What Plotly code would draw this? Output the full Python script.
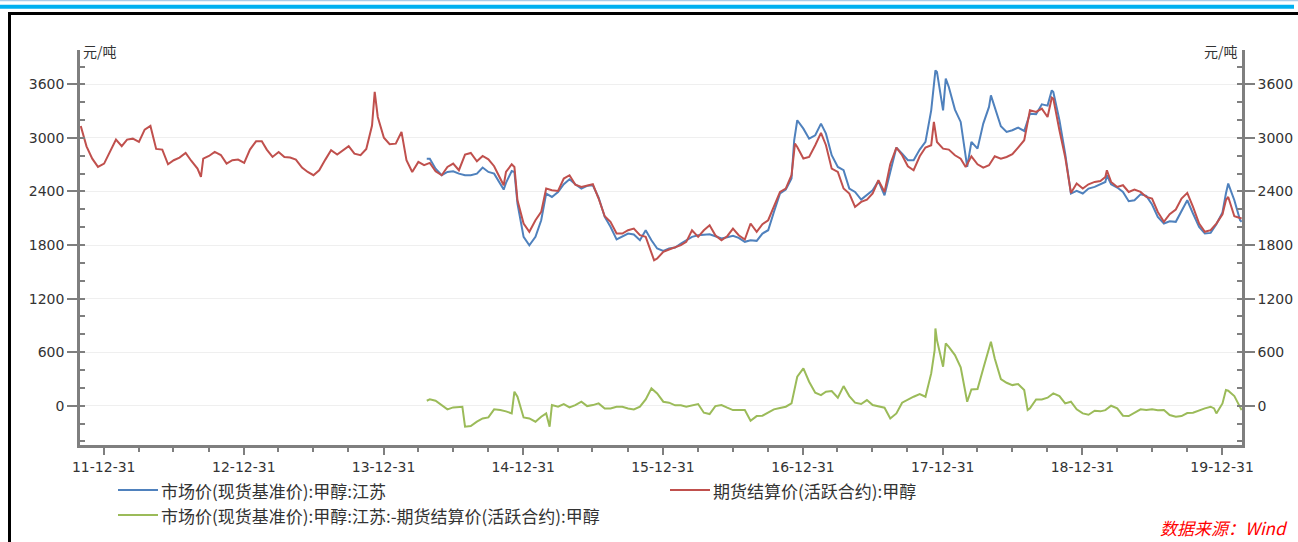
import plotly.graph_objects as go

# ---------------- data ----------------
RED_NAME = "期货结算价(活跃合约):甲醇"
BLUE_NAME = "市场价(现货基准价):甲醇:江苏"
GREEN_NAME = "市场价(现货基准价):甲醇:江苏:-期货结算价(活跃合约):甲醇"

RED_DATES = [
    "2011-11-01", "2011-11-16", "2011-12-01", "2011-12-16",
    "2012-01-01", "2012-01-16", "2012-02-01", "2012-02-16", "2012-03-01", "2012-03-16",
    "2012-04-01", "2012-04-16", "2012-05-01", "2012-05-16", "2012-06-01", "2012-06-16",
    "2012-07-01", "2012-07-16", "2012-08-01", "2012-08-16", "2012-09-01", "2012-09-10",
    "2012-09-16", "2012-10-01", "2012-10-16", "2012-11-01", "2012-11-16", "2012-12-01",
    "2012-12-16",
    "2013-01-01", "2013-01-16", "2013-02-01", "2013-02-16", "2013-03-01", "2013-03-16",
    "2013-04-01", "2013-04-16", "2013-05-01", "2013-05-16", "2013-06-01", "2013-06-16",
    "2013-07-01", "2013-07-16", "2013-08-01", "2013-08-16", "2013-09-01", "2013-09-16",
    "2013-10-01", "2013-10-16", "2013-11-01", "2013-11-16", "2013-12-01", "2013-12-08",
    "2013-12-16",
    "2014-01-01", "2014-01-16", "2014-02-01", "2014-02-16", "2014-03-01", "2014-03-16",
    "2014-04-01", "2014-04-16", "2014-05-01", "2014-05-16", "2014-06-01", "2014-06-16",
    "2014-07-01", "2014-07-16", "2014-08-01", "2014-08-16", "2014-09-01", "2014-09-16",
    "2014-10-01", "2014-10-16", "2014-11-01", "2014-11-10", "2014-11-16", "2014-12-01",
    "2014-12-08", "2014-12-16",
    "2015-01-01", "2015-01-16", "2015-02-01", "2015-02-16", "2015-03-01", "2015-03-16",
    "2015-04-01", "2015-04-16", "2015-05-01", "2015-05-16", "2015-06-01", "2015-06-16",
    "2015-07-01", "2015-07-16", "2015-08-01", "2015-08-16", "2015-09-01", "2015-09-16",
    "2015-10-01", "2015-10-16", "2015-11-01", "2015-11-16", "2015-12-01", "2015-12-08",
    "2015-12-16",
    "2016-01-01", "2016-01-16", "2016-02-01", "2016-02-16", "2016-03-01", "2016-03-16",
    "2016-04-01", "2016-04-16", "2016-05-01", "2016-05-16", "2016-06-01", "2016-06-16",
    "2016-07-01", "2016-07-16", "2016-08-01", "2016-08-16", "2016-09-01", "2016-09-16",
    "2016-10-01", "2016-10-16", "2016-11-01", "2016-11-16", "2016-12-01", "2016-12-10",
    "2016-12-16",
    "2017-01-01", "2017-01-16", "2017-02-01", "2017-02-16", "2017-03-01", "2017-03-16",
    "2017-04-01", "2017-04-16", "2017-05-01", "2017-05-16", "2017-06-01", "2017-06-16",
    "2017-07-01", "2017-07-16", "2017-08-01", "2017-08-16", "2017-09-01", "2017-09-16",
    "2017-10-01", "2017-10-16", "2017-11-01", "2017-11-16", "2017-12-01", "2017-12-08",
    "2017-12-16",
    "2018-01-01", "2018-01-16", "2018-02-01", "2018-02-16", "2018-03-01", "2018-03-16",
    "2018-04-01", "2018-04-16", "2018-05-01", "2018-05-16", "2018-06-01", "2018-06-16",
    "2018-07-01", "2018-07-16", "2018-08-01", "2018-08-16", "2018-09-01", "2018-09-16",
    "2018-10-01", "2018-10-12", "2018-10-16", "2018-11-01", "2018-11-16", "2018-12-01",
    "2018-12-16",
    "2019-01-01", "2019-01-16", "2019-02-01", "2019-02-16", "2019-03-01", "2019-03-05",
    "2019-03-16", "2019-04-01", "2019-04-16", "2019-05-01", "2019-05-16", "2019-06-01",
    "2019-06-16", "2019-07-01", "2019-07-16", "2019-08-01", "2019-08-16", "2019-09-01",
    "2019-09-16", "2019-10-01", "2019-10-16", "2019-11-01", "2019-11-16", "2019-12-01",
    "2019-12-16",
    "2020-01-01", "2020-01-10", "2020-01-16", "2020-02-01", "2020-02-16", "2020-02-20",
]
RED_VALUES = [
    3134, 2906, 2768, 2675,
    2712, 2843, 2981, 2907, 2981, 2992,
    2955, 3093, 3134, 2877, 2869, 2705,
    2750, 2780, 2832, 2742, 2656, 2563,
    2768, 2798, 2843, 2809, 2712, 2750,
    2757,
    2720, 2869, 2962, 2962, 2869, 2787,
    2843, 2787, 2780, 2757, 2668, 2619,
    2582, 2638, 2757, 2862, 2813, 2862,
    2907, 2824, 2806, 2877, 3138, 3515,
    3235,
    3003, 2929, 2936, 3067, 2750, 2619,
    2731, 2694, 2720, 2627, 2582, 2675,
    2712, 2638, 2813, 2832, 2739, 2798,
    2761, 2683, 2545, 2470, 2619, 2705,
    2675, 2302,
    2041, 1948, 2078, 2171, 2433, 2414,
    2406, 2545, 2582, 2477, 2451, 2466,
    2481, 2321, 2123, 2060, 1929, 1929,
    1966, 1985, 1910, 1892, 1724, 1630,
    1649,
    1724, 1750, 1772, 1798, 1836, 1966,
    1892, 1966, 2022, 1910, 1854, 1899,
    1985, 1910, 1862, 2041, 1948, 2033,
    2078, 2239, 2395, 2433, 2582, 2936,
    2899,
    2769, 2787, 2918, 3056, 2918, 2656,
    2619, 2433, 2377, 2227, 2283, 2309,
    2377, 2526, 2395, 2705, 2892, 2806,
    2683, 2638, 2794, 2892, 2918, 3179,
    2955,
    2880, 2869, 2806, 2768, 2675, 2794,
    2705, 2668, 2694, 2794, 2768, 2787,
    2817, 2892, 2974, 3309, 3291, 3328,
    3235, 3451, 3440, 3086, 2787, 2384,
    2489,
    2433, 2481, 2507, 2518, 2563, 2638,
    2507, 2451, 2470, 2395, 2421, 2395,
    2339, 2321, 2171, 2060, 2145, 2198,
    2321, 2384, 2227, 2041, 1948, 1966,
    2041,
    2145, 2302, 2339, 2123, 2097, 2097,
]

BLUE_DATES = [
    "2014-04-23", "2014-05-01", "2014-05-16", "2014-06-01", "2014-06-16",
    "2014-07-01", "2014-07-16", "2014-08-01", "2014-08-16", "2014-09-01", "2014-09-16",
    "2014-10-01", "2014-10-16", "2014-11-01", "2014-11-10", "2014-11-16", "2014-12-01",
    "2014-12-08", "2014-12-16",
    "2015-01-01", "2015-01-16", "2015-02-01", "2015-02-16", "2015-03-01", "2015-03-16",
    "2015-04-01", "2015-04-16", "2015-05-01", "2015-05-16", "2015-06-01", "2015-06-16",
    "2015-07-01", "2015-07-16", "2015-08-01", "2015-08-16", "2015-09-01", "2015-09-16",
    "2015-10-01", "2015-10-16", "2015-11-01", "2015-11-16", "2015-12-01", "2015-12-16",
    "2016-01-01", "2016-01-16", "2016-02-01", "2016-02-16", "2016-03-01", "2016-03-16",
    "2016-04-01", "2016-04-16", "2016-05-01", "2016-05-16", "2016-06-01", "2016-06-16",
    "2016-07-01", "2016-07-16", "2016-08-01", "2016-08-16", "2016-09-01", "2016-09-16",
    "2016-10-01", "2016-10-16", "2016-11-01", "2016-11-16", "2016-12-01", "2016-12-08",
    "2016-12-16",
    "2017-01-01", "2017-01-16", "2017-02-01", "2017-02-16", "2017-03-01", "2017-03-16",
    "2017-04-01", "2017-04-16", "2017-05-01", "2017-05-16", "2017-06-01", "2017-06-16",
    "2017-07-01", "2017-07-16", "2017-08-01", "2017-08-16", "2017-09-01", "2017-09-16",
    "2017-10-01", "2017-10-16", "2017-11-01", "2017-11-16", "2017-12-01", "2017-12-12",
    "2017-12-16",
    "2018-01-01", "2018-01-08", "2018-01-16", "2018-02-01", "2018-02-16", "2018-03-01",
    "2018-03-05", "2018-03-16", "2018-04-01", "2018-04-16", "2018-05-01", "2018-05-06",
    "2018-05-16", "2018-06-01", "2018-06-16", "2018-07-01", "2018-07-16", "2018-08-01",
    "2018-08-16", "2018-09-01", "2018-09-16", "2018-10-01", "2018-10-12", "2018-10-16",
    "2018-11-01", "2018-11-16", "2018-12-01", "2018-12-16",
    "2019-01-01", "2019-01-16", "2019-02-01", "2019-02-16", "2019-03-01", "2019-03-05",
    "2019-03-16", "2019-04-01", "2019-04-16", "2019-05-01", "2019-05-16", "2019-06-01",
    "2019-06-16", "2019-07-01", "2019-07-16", "2019-08-01", "2019-08-16", "2019-09-01",
    "2019-09-16", "2019-10-01", "2019-10-16", "2019-11-01", "2019-11-16", "2019-12-01",
    "2019-12-16",
    "2020-01-01", "2020-01-10", "2020-01-16", "2020-02-01", "2020-02-16", "2020-02-20",
]
BLUE_VALUES = [
    2768, 2768, 2656, 2582, 2619,
    2627, 2600, 2582, 2582, 2600, 2668,
    2619, 2600, 2481, 2421, 2496, 2630,
    2619, 2265,
    1892, 1798, 1892, 2078, 2377, 2339,
    2395, 2481, 2537, 2481, 2433, 2463,
    2470, 2332, 2115, 2004, 1862, 1892,
    1929, 1918, 1854, 1966, 1854, 1761,
    1735, 1761, 1772, 1817, 1854, 1892,
    1910, 1918, 1921, 1899, 1873, 1888,
    1903, 1880, 1836, 1854, 1847, 1929,
    1966, 2171, 2377, 2421, 2545, 2974,
    3198,
    3104, 2992, 3030, 3160, 3048, 2806,
    2675, 2638, 2433, 2395, 2309, 2358,
    2414, 2518, 2358, 2619, 2892, 2824,
    2750, 2750, 2869, 2955, 3309, 3757,
    3740,
    3309, 3664, 3571, 3317, 3179, 2824,
    2675, 2955, 2880, 3160, 3347, 3477,
    3347, 3130, 3067, 3086, 3115, 3078,
    3272, 3265, 3377, 3362, 3533, 3515,
    3198, 2824, 2377, 2406,
    2377, 2433, 2451, 2477, 2507, 2582,
    2481, 2444, 2395, 2291, 2302, 2369,
    2351, 2254, 2115, 2041, 2067, 2060,
    2190, 2302, 2153, 2004, 1929, 1936,
    2033,
    2164, 2377, 2489, 2302, 2078, 2060,
]

GREEN_DATES = [
    "2014-04-23", "2014-05-01", "2014-05-16", "2014-06-01", "2014-06-16",
    "2014-07-01", "2014-07-16", "2014-07-25", "2014-08-01", "2014-08-16", "2014-09-01",
    "2014-09-16", "2014-10-01", "2014-10-16", "2014-11-01", "2014-11-16", "2014-12-01",
    "2014-12-08", "2014-12-16",
    "2015-01-01", "2015-01-16", "2015-02-01", "2015-02-16", "2015-03-01", "2015-03-10",
    "2015-03-16", "2015-04-01", "2015-04-16", "2015-05-01", "2015-05-16", "2015-06-01",
    "2015-06-16", "2015-07-01", "2015-07-16", "2015-08-01", "2015-08-16", "2015-09-01",
    "2015-09-16", "2015-10-01", "2015-10-16", "2015-11-01", "2015-11-16", "2015-12-01",
    "2015-12-16",
    "2016-01-01", "2016-01-16", "2016-02-01", "2016-02-16", "2016-03-01", "2016-03-16",
    "2016-04-01", "2016-04-16", "2016-05-01", "2016-05-16", "2016-06-01", "2016-06-16",
    "2016-07-01", "2016-07-16", "2016-08-01", "2016-08-16", "2016-09-01", "2016-09-16",
    "2016-10-01", "2016-10-16", "2016-11-01", "2016-11-16", "2016-12-01", "2016-12-08",
    "2016-12-16",
    "2017-01-01", "2017-01-16", "2017-02-01", "2017-02-16", "2017-03-01", "2017-03-16",
    "2017-04-01", "2017-04-10", "2017-04-16", "2017-05-01", "2017-05-16", "2017-06-01",
    "2017-06-16", "2017-07-01", "2017-07-16", "2017-08-01", "2017-08-16", "2017-09-01",
    "2017-09-16", "2017-10-01", "2017-10-16", "2017-11-01", "2017-11-16", "2017-12-01",
    "2017-12-10", "2017-12-12", "2017-12-16",
    "2018-01-01", "2018-01-08", "2018-01-16", "2018-02-01", "2018-02-16", "2018-03-01",
    "2018-03-05", "2018-03-16", "2018-04-01", "2018-04-16", "2018-05-01", "2018-05-06",
    "2018-05-16", "2018-06-01", "2018-06-16", "2018-07-01", "2018-07-16", "2018-08-01",
    "2018-08-10", "2018-08-16", "2018-09-01", "2018-09-16", "2018-10-01", "2018-10-16",
    "2018-11-01", "2018-11-16", "2018-12-01", "2018-12-16",
    "2019-01-01", "2019-01-16", "2019-02-01", "2019-02-16", "2019-03-01", "2019-03-16",
    "2019-04-01", "2019-04-16", "2019-05-01", "2019-05-16", "2019-06-01", "2019-06-16",
    "2019-07-01", "2019-07-16", "2019-08-01", "2019-08-16", "2019-09-01", "2019-09-16",
    "2019-10-01", "2019-10-16", "2019-11-01", "2019-11-16", "2019-12-01", "2019-12-10",
    "2019-12-16",
    "2020-01-01", "2020-01-10", "2020-01-16", "2020-02-01", "2020-02-16", "2020-02-20",
]
GREEN_VALUES = [
    56, 71, 56, 7, -41,
    -19, -11, -11, -235, -228, -179,
    -142, -131, -41, -49, -63, -86,
    157, 101,
    -131, -142, -179, -123, -86, -235,
    7, -11, 19, -19, 7, 45,
    -4, 7, 26, -30, -30, -11,
    -11, -30, -41, -11, 71, 194,
    138,
    45, 34, 4, 4, -11, 7,
    19, -78, -93, -4, 7, -22,
    -49, -49, -49, -168, -116, -112,
    -78, -41, -26, -11, 26, 157,
    325,
    418, 269, 146, 119, 157, 164,
    90, 175, 220, 108, 34, 19,
    63, 7, -4, -22, -142, -86,
    34, 71, 101, 131, 101, 362,
    623, 866, 735,
    437, 698, 660, 567, 429, 138,
    45, 183, 187, 418, 623, 716,
    530, 298, 257, 231, 243, 175,
    -49, -30, 71, 71, 90, 138,
    108, 26, 45, -41,
    -86, -101, -56, -63, -49, 0,
    -30, -112, -116, -75, -41, -49,
    -41, -52, -49, -104, -123, -116,
    -82, -78, -49, -30, -11, -30,
    -86,
    26, 175, 168, 108, -11, -49,
]

Y_TICKS = [0, 600, 1200, 1800, 2400, 3000, 3600]
X_TICK_DATES = ["2011-12-31", "2012-12-31", "2013-12-31", "2014-12-31", "2015-12-31",
                "2016-12-31", "2017-12-31", "2018-12-31", "2019-12-31"]
X_TICK_LABELS = ["11-12-31", "12-12-31", "13-12-31", "14-12-31", "15-12-31",
                 "16-12-31", "17-12-31", "18-12-31", "19-12-31"]
X_MINOR_DATES = [f"{y}-{md}" for y in range(2012, 2020) for md in ("03-31", "06-30", "09-30")]
UNIT = "元/吨"
SOURCE = "数据来源：Wind"

# ---------------- figure ----------------
W, H = 1298, 542
ML, MR, MT, MB = 80, 56, 50, 97
PW, PH = W - ML - MR, H - MT - MB


def px_x(x):
    return (x - ML) / PW


def px_y(y):
    return (H - MB - y) / PH


BLUE = "#4f81bd"
RED = "#c0504d"
GREEN = "#9bbb59"
AXIS = "#7f7f7f"
TXT = "#333333"
CJK = "Noto Sans CJK SC"

SERIES = [
    (BLUE_NAME, BLUE_DATES, BLUE_VALUES, BLUE),
    (RED_NAME, RED_DATES, RED_VALUES, RED),
    (GREEN_NAME, GREEN_DATES, GREEN_VALUES, GREEN),
]

fig = go.Figure()
for name, xs, ys, col in SERIES:
    fig.add_trace(go.Scatter(x=xs, y=ys, mode="lines", name=name,
                             line=dict(color=col, width=2), showlegend=False))
# carrier for the mirrored right-hand axis
fig.add_trace(go.Scatter(x=[RED_DATES[0]], y=[RED_VALUES[0]], yaxis="y2", mode="lines",
                         line=dict(width=0, color="rgba(0,0,0,0)"), showlegend=False,
                         hoverinfo="skip"))

YR = [-440, 3985]
yaxis_common = dict(
    range=YR, tickmode="array", tickvals=Y_TICKS, ticktext=[str(v) for v in Y_TICKS],
    ticks="outside", ticklen=10, tickwidth=2, tickcolor=AXIS,
    showline=True, linecolor=AXIS, linewidth=2.5,
    tickfont=dict(family="DejaVu Sans", size=14, color=TXT),
    minor=dict(tickmode="linear", tick0=0, dtick=200, ticks="inside", ticklen=5,
               tickwidth=2, tickcolor=AXIS, showgrid=False),
    zeroline=False, fixedrange=True, automargin=False,
)

fig.update_layout(
    width=W, height=H,
    margin=dict(l=ML, r=MR, t=MT, b=MB, autoexpand=False),
    paper_bgcolor="white", plot_bgcolor="white",
    showlegend=False,
    xaxis=dict(
        type="date", range=["2011-10-30", "2020-02-21"],
        tickmode="array", tickvals=X_TICK_DATES, ticktext=X_TICK_LABELS,
        ticks="outside", ticklen=7, tickwidth=2, tickcolor=AXIS,
        showline=True, linecolor=AXIS, linewidth=2.5, showgrid=False, zeroline=False,
        tickfont=dict(family="DejaVu Sans", size=14, color=TXT),
        minor=dict(tickmode="array", tickvals=X_MINOR_DATES, ticks="outside", ticklen=4,
                   tickwidth=2, tickcolor=AXIS, showgrid=False),
        fixedrange=True, automargin=False,
    ),
    yaxis=dict(side="left", showgrid=True, gridcolor="#efefef", gridwidth=1, **yaxis_common),
    yaxis2=dict(side="right", overlaying="y", showgrid=False, **yaxis_common),
)

# frame decorations
fig.add_shape(type="line", xref="paper", yref="paper", x0=px_x(0), x1=px_x(W),
              y0=px_y(0.5), y1=px_y(0.5), line=dict(color="#a9cbe8", width=1.5))
fig.add_shape(type="line", xref="paper", yref="paper", x0=px_x(0), x1=px_x(1294),
              y0=px_y(6.8), y1=px_y(6.8), line=dict(color="#00b0f0", width=4))
fig.add_shape(type="line", xref="paper", yref="paper", x0=px_x(8), x1=px_x(W),
              y0=px_y(13.5), y1=px_y(13.5), line=dict(color="black", width=3))
fig.add_shape(type="line", xref="paper", yref="paper", x0=px_x(9.5), x1=px_x(9.5),
              y0=px_y(12), y1=px_y(H), line=dict(color="black", width=3))

# legend (drawn as line samples + text)
LEG_POS = [(118, 490), (670, 490), (118, 515)]
for (name, _, _, col), (lx, ly) in zip(SERIES, LEG_POS):
    fig.add_shape(type="line", xref="paper", yref="paper", x0=px_x(lx), x1=px_x(lx + 40),
                  y0=px_y(ly), y1=px_y(ly), line=dict(color=col, width=2))
    fig.add_annotation(text=name, xref="paper", yref="paper", x=px_x(lx + 42), y=px_y(ly),
                       xanchor="left", yanchor="middle", showarrow=False, borderpad=0,
                       font=dict(family=CJK, size=17, color=TXT))

# unit labels
fig.add_annotation(text=UNIT, xref="paper", yref="paper", x=px_x(81), y=px_y(51),
                   xanchor="left", yanchor="middle", showarrow=False,
                   font=dict(family=CJK, size=14, color=TXT))
fig.add_annotation(text=UNIT, xref="paper", yref="paper", x=px_x(1240), y=px_y(51),
                   xanchor="right", yanchor="middle", showarrow=False,
                   font=dict(family=CJK, size=14, color=TXT))
# source (kept fully inside the page)
fig.add_annotation(text="<i>" + SOURCE + "</i>", xref="paper", yref="paper",
                   x=px_x(1290), y=px_y(542), xanchor="right", yanchor="bottom",
                   showarrow=False, font=dict(family=CJK, size=17, color="#ff0000"))

fig.write_html("out.html", config={"displayModeBar": False},
               post_script="document.body.style.margin='0px';document.body.style.overflow='hidden';")
